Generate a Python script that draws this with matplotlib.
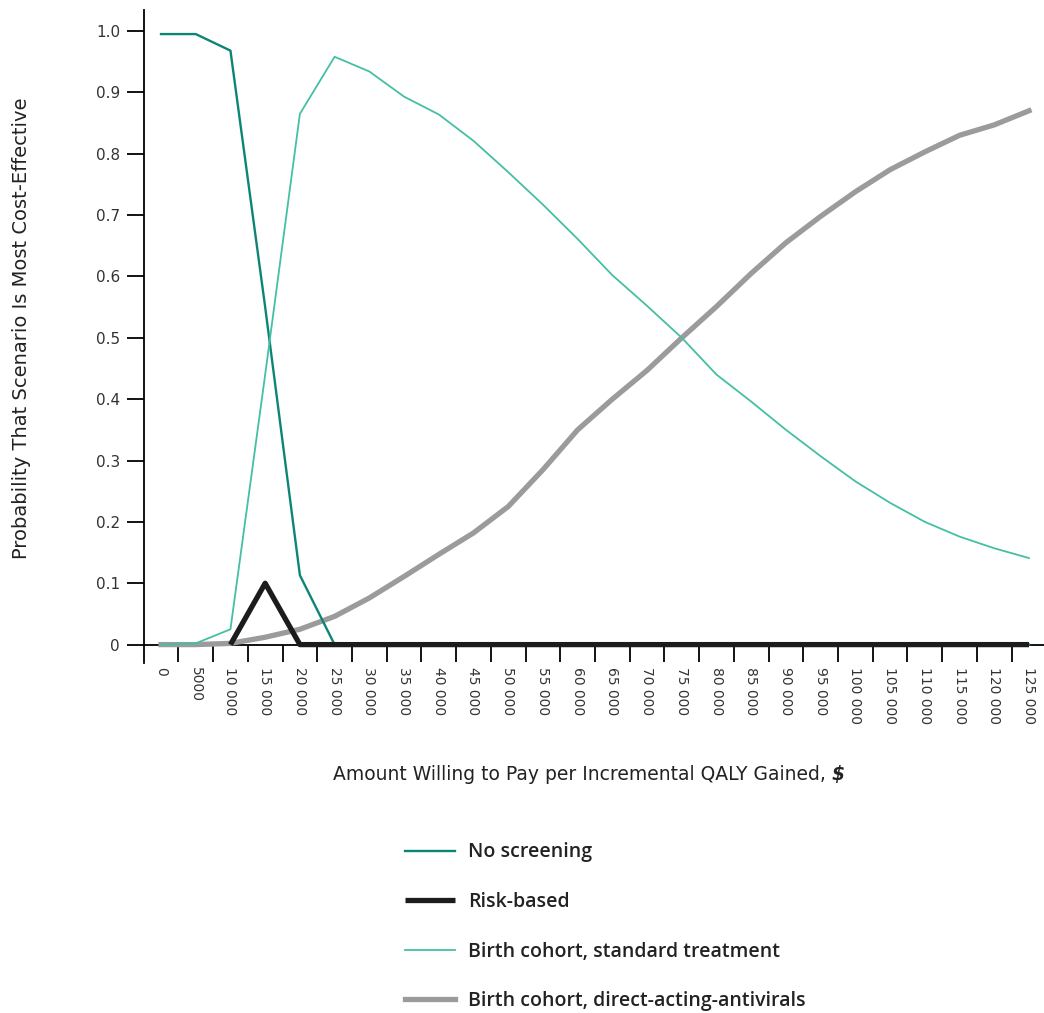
import numpy as np
import matplotlib
matplotlib.use("Agg")
import matplotlib.pyplot as plt
from matplotlib.ticker import FixedLocator

plt.rcParams['font.family'] = ['DejaVu Sans']

# willingness-to-pay thresholds ($ per QALY)
wtp = np.arange(0, 125001, 5000)
tick_labels = ['0', '5000'] + [f'{v // 1000} 000' for v in wtp[2:]]

no_screening = [0.995, 0.995, 0.968, 0.55, 0.113, 0.0, 0, 0, 0, 0, 0, 0, 0,
                0, 0, 0, 0, 0, 0, 0, 0, 0, 0, 0, 0, 0]
risk_based = [np.nan, np.nan, 0.0, 0.10, 0.0, 0, 0, 0, 0, 0, 0, 0, 0,
              0, 0, 0, 0, 0, 0, 0, 0, 0, 0, 0, 0, 0]
cohort_standard = [0.0, 0.002, 0.025, 0.44, 0.865, 0.958, 0.934, 0.893, 0.864,
                   0.821, 0.770, 0.717, 0.661, 0.602, 0.552, 0.50, 0.44, 0.396,
                   0.35, 0.307, 0.266, 0.231, 0.20, 0.176, 0.157, 0.141]
cohort_daa = [0.0, 0.0, 0.002, 0.012, 0.025, 0.046, 0.076, 0.111, 0.147, 0.182,
              0.225, 0.285, 0.35, 0.40, 0.447, 0.50, 0.551, 0.605, 0.655,
              0.698, 0.738, 0.774, 0.803, 0.83, 0.847, 0.87]

fig = plt.figure(figsize=(10.44, 10.13), dpi=100)
ax = fig.add_axes([0.1376, 0.3455, 0.8624, 0.6445])

ax.plot(wtp, no_screening, color='#0d8576', lw=1.7, label='No screening', zorder=4)
ax.plot(wtp, risk_based, color='#1c1c1c', lw=3.8, label='Risk-based', zorder=6,
        solid_capstyle='butt')
ax.plot(wtp, cohort_standard, color='#45bfa4', lw=1.3,
        label='Birth cohort, standard treatment', zorder=5)
ax.plot(wtp, cohort_daa, color='#9b9b9b', lw=3.8,
        label='Birth cohort, direct-acting-antivirals', zorder=3.5)

ax.set_xlim(-2500, 127160)
ax.set_ylim(-0.03, 1.034)

for side in ['top', 'right']:
    ax.spines[side].set_visible(False)
ax.spines['bottom'].set_position(('data', 0))
ax.spines['left'].set_linewidth(1.3)
ax.spines['bottom'].set_linewidth(1.3)

ax.set_yticks(np.arange(0, 1.01, 0.1))
ax.set_yticklabels(['0'] + [f'{v:.1f}' for v in np.arange(0.1, 1.01, 0.1)])
ax.tick_params(axis='y', length=12, width=1.3, pad=5, labelsize=11,
               labelcolor='#333333')

ax.set_xticks(wtp)
ax.set_xticklabels(tick_labels, rotation=270, ha='center', va='top')
ax.xaxis.set_minor_locator(FixedLocator(np.arange(2500, 125000, 5000)))
ax.tick_params(axis='x', which='major', length=0, pad=16, labelsize=10,
               labelcolor='#333333')
ax.tick_params(axis='x', which='minor', length=12, width=1.3)

# x label with an italic bold dollar sign after it
xl = fig.text(0.319, 0.235, 'Amount Willing to Pay per Incremental QALY Gained, ',
              ha='left', va='center', fontsize=13.5, color='#222222')
renderer = fig.canvas.get_renderer()
bb = xl.get_window_extent(renderer).transformed(fig.transFigure.inverted())
fig.text(bb.x1, 0.235, '$', ha='left', va='center', fontsize=13.5,
         color='#222222', style='italic', weight='bold')

fig.text(0.021, 0.676, 'Probability That Scenario Is Most Cost-Effective',
         rotation=90, ha='center', va='center', fontsize=14, color='#222222')

handles, labels = ax.get_legend_handles_labels()
leg = fig.legend(handles, labels, loc='upper left', bbox_to_anchor=(0.3785, 0.178),
                 frameon=False, prop={'family': 'Open Sans', 'size': 14,
                                      'weight': 'semibold'},
                 handlelength=2.6, handletextpad=0.65,
                 labelspacing=1.52, borderpad=0)
for t in leg.get_texts():
    t.set_color('#222222')

fig.savefig('out.png', dpi=100, facecolor='white')
